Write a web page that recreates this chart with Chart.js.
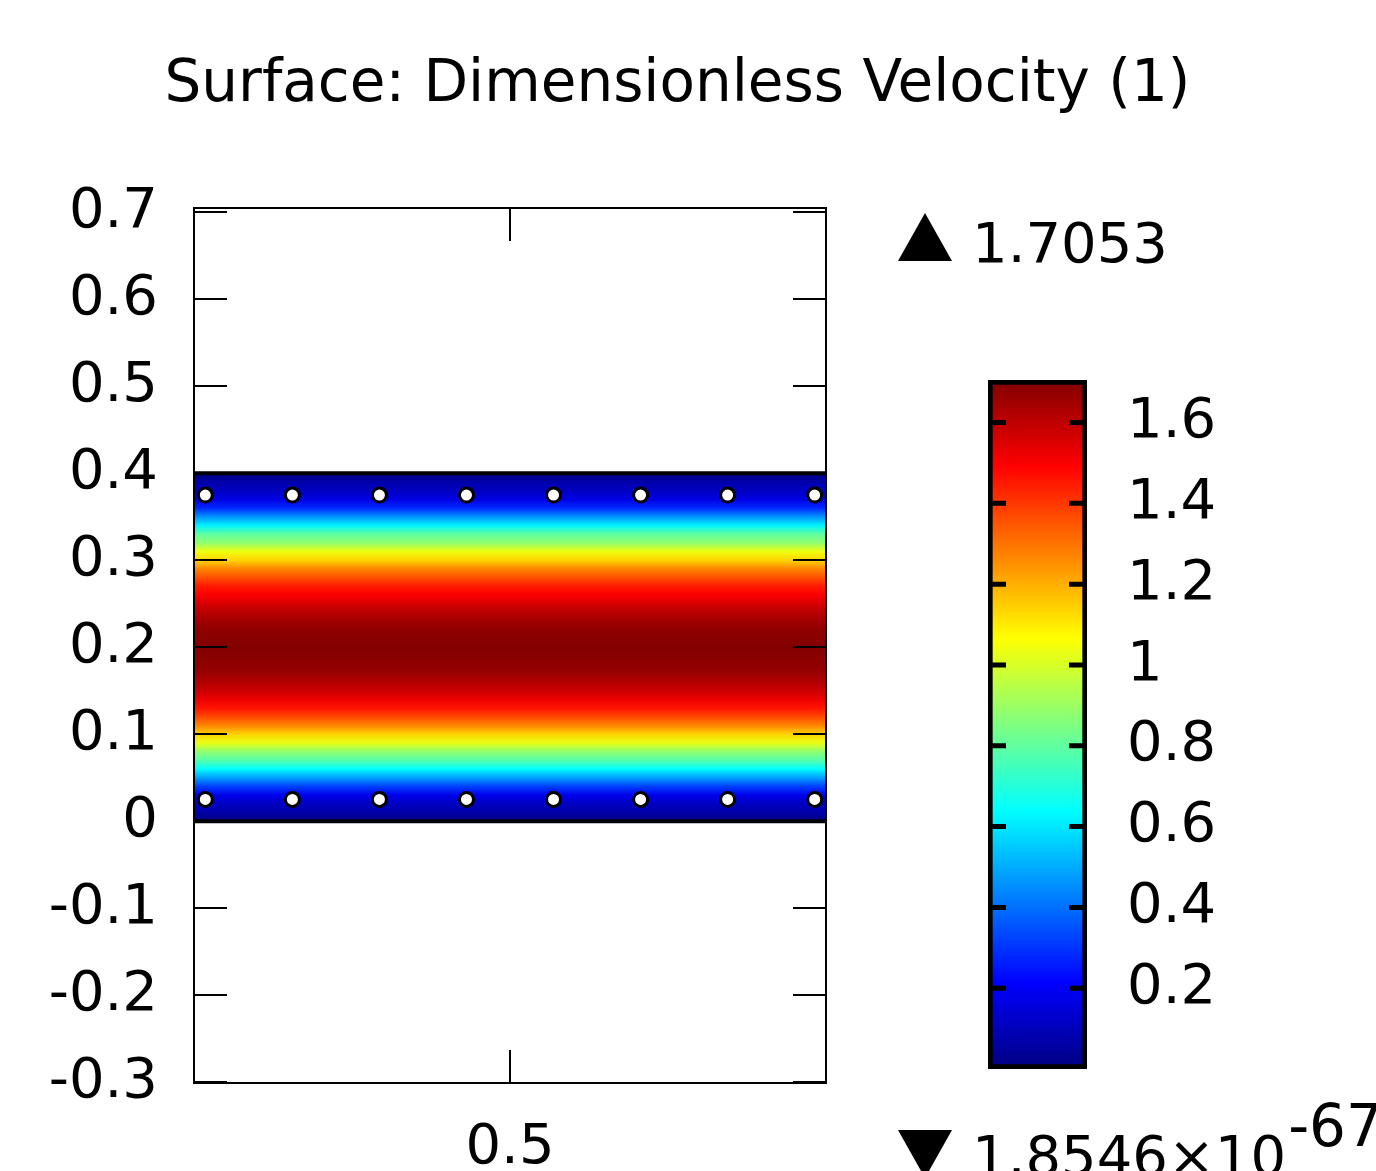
<!DOCTYPE html>
<html>
<head>
<meta charset="utf-8">
<script src="https://cdn.jsdelivr.net/npm/chart.js@4/dist/chart.umd.min.js"></script>
<style>
  html, body { margin: 0; padding: 0; background: #fff; }
  body { width: 1376px; height: 1171px; overflow: hidden; position: relative; font-family: "DejaVu Sans", sans-serif; color: #000; }
  .abs { position: absolute; }
  #title { left: 0; top: 52px; width: 1355px; text-align: center; font-size: 58px; line-height: 1; white-space: nowrap; }
  .lbl { font-size: 56px; line-height: 1; white-space: nowrap; }
  .tri-up { width: 0; height: 0; border-left: 27px solid transparent; border-right: 27px solid transparent; border-bottom: 48px solid #000; }
  .tri-down { width: 0; height: 0; border-left: 27px solid transparent; border-right: 27px solid transparent; border-top: 48px solid #000; }
  sup { font-size: 58px; position: relative; top: -29px; vertical-align: baseline; margin-left: 2px; }
</style>
</head>
<body>
<div id="title" class="abs">Surface: Dimensionless Velocity (1)</div>

<div class="abs" style="left:0;top:0;width:900px;height:1171px;"><canvas id="mainChart"></canvas></div>
<div class="abs" style="left:980px;top:360px;width:396px;height:730px;"><canvas id="colorBar"></canvas></div>

<div class="abs tri-up" style="left:898px;top:213px;"></div>
<div class="abs lbl" id="maxLabel" style="left:972px;top:215px;"></div>
<div class="abs tri-down" style="left:898px;top:1130px;"></div>
<div class="abs lbl" id="minLabel" style="left:972px;top:1126px;"></div>

<script>
// axis ranges and ticks
const xMin = 0.137, xMax = 0.863;
const yMin = -0.301, yMax = 0.705;
const xTicks = [0.5];
const yTicks = [-0.3, -0.2, -0.1, 0, 0.1, 0.2, 0.3, 0.4, 0.5, 0.6, 0.7];

// velocity across the channel, y from 0 to 0.4
const yLevels = [0.00, 0.01, 0.02, 0.03, 0.04, 0.05, 0.06, 0.07, 0.08, 0.09,
                 0.10, 0.11, 0.12, 0.13, 0.14, 0.15, 0.16, 0.17, 0.18, 0.19,
                 0.20, 0.21, 0.22, 0.23, 0.24, 0.25, 0.26, 0.27, 0.28, 0.29,
                 0.30, 0.31, 0.32, 0.33, 0.34, 0.35, 0.36, 0.37, 0.38, 0.39, 0.40];
const velocity = [0.00, 0.07, 0.11, 0.18, 0.32, 0.48, 0.64, 0.78, 0.88, 1.03,
                  1.14, 1.27, 1.37, 1.46, 1.52, 1.58, 1.62, 1.66, 1.68, 1.69,
                  1.70, 1.69, 1.68, 1.65, 1.61, 1.56, 1.50, 1.45, 1.36, 1.27,
                  1.14, 1.04, 0.88, 0.80, 0.62, 0.46, 0.28, 0.17, 0.11, 0.07, 0.00];

// particle markers
const particleX = [0.15, 0.25, 0.35, 0.45, 0.55, 0.65, 0.75, 0.85];
const particleY = [0.025, 0.375];

// colour range
const colorMin = 1.8546e-67;
const colorMax = 1.7053;
const colorTicks = [0.2, 0.4, 0.6, 0.8, 1, 1.2, 1.4, 1.6];

document.getElementById('maxLabel').textContent = '1.7053';
document.getElementById('minLabel').innerHTML = '1.8546\u00d710<sup>-67</sup>';

// jet colormap
const jetStops = [
    [0, [0, 0, 128]],
    [0.125, [0, 0, 255]],
    [0.375, [0, 255, 255]],
    [0.625, [255, 255, 0]],
    [0.875, [255, 0, 0]],
    [1, [128, 0, 0]]
];
function jet(t) {
    t = Math.max(0, Math.min(1, t));
    for (let i = 1; i < jetStops.length; i++) {
        const [t1, c1] = jetStops[i];
        const [t0, c0] = jetStops[i - 1];
        if (t <= t1) {
            const f = (t - t0) / (t1 - t0);
            const c = c0.map((v, k) => Math.round(v + (c1[k] - v) * f));
            return `rgb(${c[0]},${c[1]},${c[2]})`;
        }
    }
    return 'rgb(128,0,0)';
}

const font = { family: 'DejaVu Sans', size: 56 };

// Surface colours of the channel
const heatmapPlugin = {
    id: 'heatmap',
    beforeDatasetsDraw(chart) {
        const { ctx, scales: { x, y } } = chart;
        const x0 = x.getPixelForValue(xMin), x1 = x.getPixelForValue(xMax);
        const first = yLevels[0], last = yLevels[yLevels.length - 1];
        const yb = y.getPixelForValue(first), yt = y.getPixelForValue(last);
        const grad = ctx.createLinearGradient(0, yb, 0, yt);
        yLevels.forEach((lv, i) => {
            grad.addColorStop((lv - first) / (last - first), jet(velocity[i] / colorMax));
        });
        ctx.save();
        ctx.fillStyle = grad;
        ctx.fillRect(x0, yt, x1 - x0, yb - yt);
        ctx.strokeStyle = '#000';
        ctx.lineWidth = 4;
        ctx.beginPath();
        ctx.moveTo(x0, yt); ctx.lineTo(x1, yt);
        ctx.moveTo(x0, yb); ctx.lineTo(x1, yb);
        ctx.stroke();
        ctx.restore();
    }
};

// Frame with inward ticks
const framePlugin = {
    id: 'frame',
    afterDatasetsDraw(chart) {
        const { ctx, chartArea: a, scales: { x, y } } = chart;
        const len = 33;
        ctx.save();
        ctx.strokeStyle = '#000';
        ctx.lineWidth = 2;
        ctx.strokeRect(a.left, a.top, a.right - a.left, a.bottom - a.top);
        ctx.beginPath();
        yTicks.forEach(v => {
            const py = Math.round(y.getPixelForValue(v));
            ctx.moveTo(a.left, py); ctx.lineTo(a.left + len, py);
            ctx.moveTo(a.right, py); ctx.lineTo(a.right - len, py);
        });
        xTicks.forEach(v => {
            const px = Math.round(x.getPixelForValue(v));
            ctx.moveTo(px, a.top); ctx.lineTo(px, a.top + len);
            ctx.moveTo(px, a.bottom); ctx.lineTo(px, a.bottom - len);
        });
        ctx.stroke();
        ctx.restore();
    }
};

const dots = [];
particleY.forEach(py => particleX.forEach(px => dots.push({ x: px, y: py })));

new Chart(document.getElementById('mainChart'), {
    type: 'scatter',
    data: {
        datasets: [{
            data: dots,
            pointRadius: 7,
            pointBackgroundColor: '#fff',
            pointBorderColor: '#000',
            pointBorderWidth: 3
        }]
    },
    options: {
        responsive: true,
        maintainAspectRatio: false,
        animation: false,
        layout: { padding: { top: 208, right: 74, bottom: 0, left: 0 } },
        plugins: { legend: { display: false }, tooltip: { enabled: false } },
        scales: {
            x: {
                type: 'linear',
                min: xMin,
                max: xMax,
                afterBuildTicks: s => { s.ticks = xTicks.map(v => ({ value: v })); },
                afterFit: s => { s.height = 88; s.paddingLeft = 0; s.paddingRight = 0; },
                grid: { display: false, drawTicks: false },
                border: { display: false },
                ticks: { font, color: '#000', padding: 32, maxRotation: 0, callback: v => String(v) }
            },
            y: {
                type: 'linear',
                min: yMin,
                max: yMax,
                afterBuildTicks: s => { s.ticks = yTicks.map(v => ({ value: v })); },
                afterFit: s => { s.width = 194; s.paddingTop = 0; s.paddingBottom = 0; },
                grid: { display: false, drawTicks: false },
                border: { display: false },
                ticks: { font, color: '#000', padding: 36, callback: v => String(v) }
            }
        }
    },
    plugins: [heatmapPlugin, framePlugin]
});

// Colour legend ticks inside the bar
const barTicksPlugin = {
    id: 'barTicks',
    afterDatasetsDraw(chart) {
        const { ctx, chartArea: a, scales: { y } } = chart;
        ctx.save();
        ctx.strokeStyle = '#000';
        ctx.lineWidth = 5;
        ctx.beginPath();
        colorTicks.forEach(v => {
            const py = y.getPixelForValue(v);
            ctx.moveTo(a.left, py); ctx.lineTo(a.left + 18, py);
            ctx.moveTo(a.right, py); ctx.lineTo(a.right - 18, py);
        });
        ctx.stroke();
        ctx.restore();
    }
};

new Chart(document.getElementById('colorBar'), {
    type: 'bar',
    data: {
        labels: [''],
        datasets: [{
            data: [[colorMin, colorMax]],
            backgroundColor: c => {
                const a = c.chart.chartArea;
                if (!a) return 'transparent';
                const g = c.chart.ctx.createLinearGradient(0, a.bottom, 0, a.top);
                jetStops.forEach(([t, col]) => g.addColorStop(t, `rgb(${col[0]},${col[1]},${col[2]})`));
                return g;
            },
            borderColor: '#000',
            borderWidth: 5,
            borderSkipped: false,
            barPercentage: 1,
            categoryPercentage: 1
        }]
    },
    options: {
        responsive: true,
        maintainAspectRatio: false,
        animation: false,
        layout: { padding: { top: 20, right: 0, bottom: 21, left: 8 } },
        plugins: { legend: { display: false }, tooltip: { enabled: false } },
        scales: {
            x: { display: false },
            y: {
                position: 'right',
                min: 0,
                max: colorMax,
                afterBuildTicks: s => { s.ticks = colorTicks.map(v => ({ value: v })); },
                afterFit: s => { s.width = 289; s.paddingTop = 0; s.paddingBottom = 0; },
                grid: { display: false, drawTicks: false },
                border: { display: false },
                ticks: { font, color: '#000', padding: 40, callback: v => String(v) }
            }
        }
    },
    plugins: [barTicksPlugin]
});
</script>
</body>
</html>
